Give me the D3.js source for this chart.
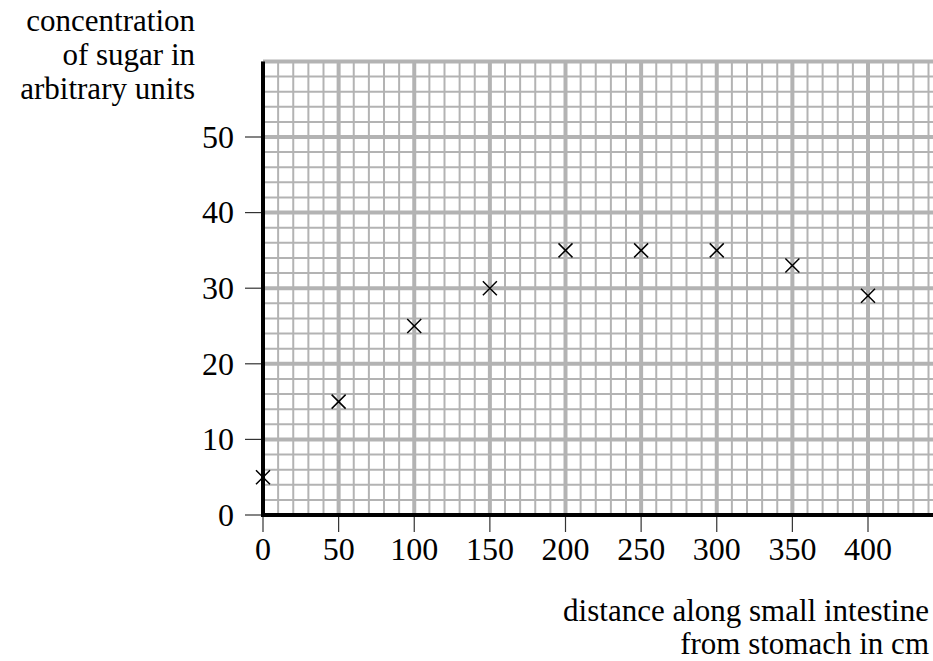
<!DOCTYPE html>
<html>
<head>
<meta charset="utf-8">
<script src="https://cdn.jsdelivr.net/npm/d3@7"></script>
<style>
  body { margin: 0; background: #fff; }
  svg { display: block; }
</style>
</head>
<body>
<svg class="chart"></svg>
<script>
const distance = [0, 50, 100, 150, 200, 250, 300, 350, 400];
const sugar = [5, 15, 25, 30, 35, 35, 35, 33, 29];
const xTicks = [0, 50, 100, 150, 200, 250, 300, 350, 400];
const yTicks = [0, 10, 20, 30, 40, 50];
const yTitle = ["concentration", "of sugar in", "arbitrary units"];
const xTitle = ["distance along small intestine", "from stomach in cm"];

const width = 933, height = 661;
const font = "'Liberation Serif', 'Times New Roman', serif";
const fs = 32;

const x = d3.scaleLinear().domain([0, 400]).range([263, 868]);
const y = d3.scaleLinear().domain([0, 50]).range([515, 137]);

const svg = d3.select(".chart")
  .attr("width", width)
  .attr("height", height);

// grid paper
const grid = svg.append("g").attr("stroke", "#b3b3b3");
const xMax = x.invert(width + 10);
grid.selectAll(".vx")
  .data(d3.range(0, xMax, 10))
  .enter().append("line")
    .attr("x1", d => x(d)).attr("x2", d => x(d))
    .attr("y1", y(60)).attr("y2", y(0))
    .attr("stroke-width", d => d % 50 === 0 ? 4 : 2);
grid.selectAll(".hy")
  .data(d3.range(0, 61, 2))
  .enter().append("line")
    .attr("x1", x(0)).attr("x2", width)
    .attr("y1", d => y(d)).attr("y2", d => y(d))
    .attr("stroke-width", d => d % 10 === 0 ? 4 : 2);

// ticks
svg.append("g").selectAll("line")
  .data(yTicks)
  .enter().append("line")
    .attr("x1", x(0) - 18).attr("x2", x(0))
    .attr("y1", d => y(d)).attr("y2", d => y(d))
    .attr("stroke", "#333").attr("stroke-width", 1.2);
svg.append("g").selectAll("line")
  .data(xTicks)
  .enter().append("line")
    .attr("x1", d => x(d)).attr("x2", d => x(d))
    .attr("y1", y(0)).attr("y2", y(0) + 17)
    .attr("stroke", "#333").attr("stroke-width", 1.2);

// axes
svg.append("line")
  .attr("x1", x(0)).attr("x2", x(0))
  .attr("y1", y(60)).attr("y2", y(0) + 2)
  .attr("stroke", "#000").attr("stroke-width", 4);
svg.append("line")
  .attr("x1", x(0) - 2).attr("x2", width)
  .attr("y1", y(0)).attr("y2", y(0))
  .attr("stroke", "#000").attr("stroke-width", 4);

// tick labels
svg.append("g")
  .attr("font-family", font).attr("font-size", fs)
  .selectAll("text")
  .data(yTicks)
  .enter().append("text")
    .attr("x", x(0) - 29)
    .attr("y", d => y(d))
    .attr("dy", "0.34em")
    .attr("text-anchor", "end")
    .text(d => d);
svg.append("g")
  .attr("font-family", font).attr("font-size", fs)
  .selectAll("text")
  .data(xTicks)
  .enter().append("text")
    .attr("x", d => x(d))
    .attr("y", 560)
    .attr("text-anchor", "middle")
    .text(d => d);

// axis titles
svg.append("g")
  .attr("font-family", font).attr("font-size", 31)
  .attr("text-anchor", "end")
  .selectAll("text")
  .data(yTitle)
  .enter().append("text")
    .attr("x", 195)
    .attr("y", (d, i) => 31 + i * 34)
    .text(d => d);
svg.append("g")
  .attr("font-family", font).attr("font-size", 31)
  .attr("text-anchor", "end")
  .selectAll("text")
  .data(xTitle)
  .enter().append("text")
    .attr("x", 929)
    .attr("y", (d, i) => 621 + i * 33)
    .text(d => d);

// crosses
const s = 7;
const pts = distance.map((d, i) => [d, sugar[i]]);
svg.append("g")
  .attr("stroke", "#000").attr("stroke-width", 1.5).attr("fill", "none")
  .selectAll("path")
  .data(pts)
  .enter().append("path")
    .attr("d", d => `M${x(d[0]) - s},${y(d[1]) - s}L${x(d[0]) + s},${y(d[1]) + s}M${x(d[0]) - s},${y(d[1]) + s}L${x(d[0]) + s},${y(d[1]) - s}`);
</script>
</body>
</html>
